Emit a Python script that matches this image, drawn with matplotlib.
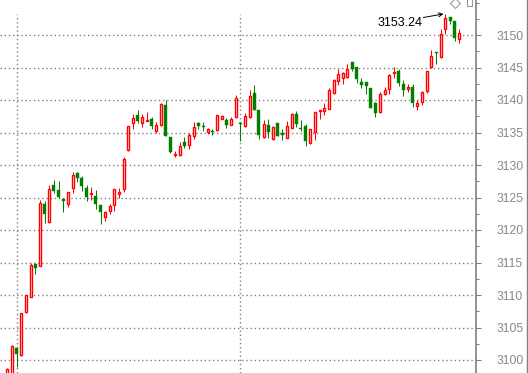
import matplotlib
matplotlib.use("Agg")
import matplotlib.pyplot as plt
from matplotlib.patches import Rectangle
from matplotlib.lines import Line2D
from matplotlib.ticker import MultipleLocator

# ---- data (5-minute bars) ----
opens = [3096.5, 3097.0, 3101.8, 3100.7, 3107.4, 3109.75, 3114.8, 3114.5, 3124.0, 3121.2,
         3126.9, 3126.1, 3124.8, 3124.05, 3126.4, 3128.8, 3128.0, 3126.45, 3125.5, 3125.2,
         3123.85, 3122.05, 3123.0, 3123.8, 3125.6, 3126.3, 3132.3, 3136.4, 3137.7, 3136.46,
         3136.8, 3137.08, 3135.28, 3136.15, 3139.23, 3134.26, 3131.6, 3131.59, 3133.54, 3133.13,
         3134.51, 3136.41, 3136.0, 3135.13, 3135.28, 3135.33, 3137.13, 3136.92, 3136.21, 3137.33,
         3136.5, 3135.95, 3137.33, 3141.03, 3138.46, 3134.26, 3136.15, 3133.95, 3136.45, 3134.9,
         3134.2, 3135.75, 3137.85, 3135.7, 3136.0, 3133.43, 3135.13, 3138.35, 3138.36, 3138.67,
         3141.13, 3142.97, 3143.33, 3143.59, 3145.85, 3145.1, 3142.77, 3142.77, 3141.85, 3139.54,
         3138.2, 3140.87, 3141.64, 3144.1, 3144.41, 3142.46, 3141.64, 3141.95, 3139.08, 3139.64,
         3141.44, 3145.08, 3147.38, 3146.56, 3150.87, 3152.77, 3152.15, 3149.44]
highs = [3098.7, 3102.3, 3101.9, 3107.3, 3110.05, 3114.9, 3114.9, 3124.6, 3124.4, 3126.9,
         3127.65, 3127.5, 3124.85, 3125.9, 3129.0, 3128.85, 3128.3, 3126.9, 3126.6, 3126.15,
         3123.9, 3123.0, 3124.0, 3126.35, 3126.5, 3131.2, 3136.0, 3137.85, 3138.45, 3137.8,
         3138.15, 3137.44, 3136.56, 3139.5, 3140.0, 3134.3, 3132.2, 3133.54, 3134.3, 3134.97,
         3136.62, 3136.67, 3136.62, 3135.74, 3135.59, 3137.75, 3137.74, 3137.28, 3137.33, 3140.72,
         3136.6, 3137.95, 3141.54, 3142.36, 3138.5, 3136.87, 3137.08, 3135.95, 3136.5, 3135.54,
         3136.8, 3138.0, 3138.3, 3136.92, 3136.3, 3135.55, 3138.2, 3138.45, 3139.54, 3141.85,
         3143.2, 3144.77, 3144.3, 3145.54, 3145.9, 3145.15, 3143.38, 3142.8, 3141.9, 3139.7,
         3141.23, 3142.05, 3144.05, 3145.13, 3144.82, 3143.03, 3142.51, 3142.41, 3140.0, 3141.38,
         3144.5, 3147.69, 3147.4, 3150.92, 3153.24, 3152.8, 3152.2, 3150.87]
lows = [3096.0, 3096.5, 3099.0, 3100.6, 3107.2, 3109.7, 3113.3, 3114.4, 3121.1, 3121.1,
        3125.75, 3124.9, 3122.8, 3123.6, 3125.7, 3127.4, 3126.05, 3124.5, 3124.6, 3123.3,
        3120.95, 3121.4, 3122.4, 3123.0, 3124.9, 3125.9, 3132.2, 3135.6, 3136.5, 3135.9,
        3136.75, 3135.6, 3134.87, 3136.0, 3134.5, 3131.9, 3131.2, 3131.38, 3132.6, 3132.41,
        3134.0, 3135.54, 3135.28, 3134.82, 3134.62, 3135.25, 3137.03, 3135.64, 3136.1, 3137.2,
        3133.7, 3135.9, 3137.18, 3138.4, 3134.0, 3134.1, 3134.2, 3133.9, 3134.5, 3133.9,
        3134.1, 3135.7, 3135.8, 3135.23, 3132.97, 3133.3, 3133.9, 3137.13, 3137.7, 3138.6,
        3141.0, 3142.3, 3142.46, 3143.33, 3144.4, 3142.67, 3141.85, 3140.97, 3138.8, 3137.44,
        3138.05, 3140.8, 3140.97, 3143.44, 3142.2, 3140.67, 3141.23, 3138.92, 3138.41, 3139.18,
        3141.03, 3145.0, 3145.49, 3146.5, 3150.1, 3151.64, 3149.03, 3148.77]
closes = [3098.6, 3102.15, 3101.0, 3107.2, 3110.0, 3114.6, 3114.1, 3124.1, 3122.4, 3126.3,
          3126.05, 3125.1, 3124.5, 3125.8, 3128.4, 3128.05, 3126.7, 3125.15, 3125.7, 3124.05,
          3122.7, 3122.77, 3123.7, 3126.26, 3125.8, 3131.0, 3135.95, 3137.3, 3136.7, 3137.44,
          3136.9, 3136.05, 3136.1, 3139.38, 3134.51, 3132.05, 3131.75, 3132.87, 3132.95, 3134.67,
          3135.8, 3136.0, 3135.85, 3135.49, 3135.08, 3137.69, 3137.49, 3136.15, 3137.08, 3140.26,
          3136.26, 3137.49, 3140.62, 3138.46, 3134.62, 3136.31, 3135.13, 3135.85, 3134.52, 3134.56,
          3136.0, 3137.88, 3136.3, 3135.55, 3133.74, 3135.49, 3138.15, 3138.43, 3138.75, 3141.54,
          3143.08, 3144.0, 3144.15, 3144.72, 3144.72, 3143.23, 3142.36, 3142.1, 3138.82, 3137.95,
          3140.92, 3141.59, 3143.9, 3144.36, 3142.56, 3141.59, 3141.95, 3139.59, 3139.49, 3141.18,
          3144.41, 3146.82, 3147.18, 3150.1, 3152.56, 3152.1, 3149.59, 3150.3]
day_starts = [2, 50]
y_ticks = [3100, 3105, 3110, 3115, 3120, 3125, 3130, 3135, 3140, 3145, 3150]
peak_index = 94
peak_value = 3153.24
peak_label = "3153.24"

# ---- figure / layout ----
W, H = 528, 373
plt.rcParams["font.family"] = ["Liberation Sans", "DejaVu Sans"]
fig = plt.figure(figsize=(W / 100, H / 100), dpi=100)
ax_right_px = 476
ax = fig.add_axes([0, 0, ax_right_px / W, 1])

bar_px = 4.66          # pixel spacing per bar
first_px = 7.3         # pixel x of first bar
px_per_unit = 6.5      # pixels per index point
ax.set_xlim(-first_px / bar_px, (ax_right_px - first_px) / bar_px)
ax.set_ylim(3150 - (H - 35) / px_per_unit, 3150 + 35 / px_per_unit)

RED = "#ff0000"
GREEN = "#008000"
GRID = "#808080"
dot = (0, (1, 2))

# grid
ax.set_yticks(y_ticks)
ax.yaxis.set_minor_locator(MultipleLocator(2.5))
for v in y_ticks:
    ax.axhline(v, color=GRID, lw=1.0, ls=dot, zorder=0.5)
for d in day_starts:
    ax.axvline(d, ymin=0, ymax=1 - 14 / H, color=GRID, lw=1.0, ls=dot, zorder=0.5)

# candles
w_red = 2.0 / bar_px
w_green = 3.0 / bar_px
lw_px = 0.72
for i, (o, h, l, c) in enumerate(zip(opens, highs, lows, closes)):
    if c >= o:
        top, bot = c, o
        ax.plot([i, i], [top, h], color=RED, lw=lw_px, solid_capstyle="butt", zorder=2)
        ax.plot([i, i], [l, bot], color=RED, lw=lw_px, solid_capstyle="butt", zorder=2)
        ax.add_patch(Rectangle((i - w_red / 2, bot), w_red, max(top - bot, 0.05),
                               facecolor="white", edgecolor=RED, lw=1.0, zorder=3))
    else:
        ax.plot([i, i], [l, h], color=GREEN, lw=lw_px, solid_capstyle="butt", zorder=2)
        ax.add_patch(Rectangle((i - w_green / 2, c), w_green, max(o - c, 0.08),
                               facecolor=GREEN, edgecolor=GREEN, lw=0.3, zorder=3))

# peak annotation
ax.text((377.7 - first_px) / bar_px, 3150 - (26 - 35) / px_per_unit, peak_label,
        fontsize=9, color="black", ha="left", va="baseline", zorder=5)
ax.annotate("", xy=(peak_index - 0.4, peak_value),
            xytext=((423.3 - first_px) / bar_px, 3150 - (17.5 - 35) / px_per_unit),
            arrowprops=dict(arrowstyle="->", color="black", lw=0.7,
                            shrinkA=0, shrinkB=0, mutation_scale=7), zorder=5)

# small UI icons at top right
ax.plot([(455 - first_px) / bar_px], [3150 + (35 - 2.5) / px_per_unit], marker="D",
        ms=5, mfc="none", mec="#999999", mew=0.8, clip_on=False, zorder=5)
ax.add_patch(Rectangle(((466.5 - first_px) / bar_px, 3150 + (35 - 5.7) / px_per_unit),
                       5.5 / bar_px, 8 / px_per_unit, facecolor="none",
                       edgecolor="#999999", lw=0.8, zorder=5, clip_on=True))

# axes styling
for s in ["left", "top", "bottom"]:
    ax.spines[s].set_visible(False)
ax.spines["right"].set_color(GRID)
ax.spines["right"].set_linewidth(1.2)
ax.set_xticks([])
ax.yaxis.tick_right()
ax.tick_params(axis="y", which="major", length=3.6, width=0.8, color=GRID,
               labelcolor="#888888", labelsize=8.7, pad=11.5)
ax.tick_params(axis="y", which="minor", length=2.2, width=0.8, color=GRID)
ax.yaxis.grid(False)

# thin border at the right edge of the picture
fig.add_artist(Line2D([(W - 1.0) / W, (W - 1.0) / W], [0, 1], transform=fig.transFigure,
                      color=GRID, lw=1.0))

fig.savefig("out.png", dpi=100)
